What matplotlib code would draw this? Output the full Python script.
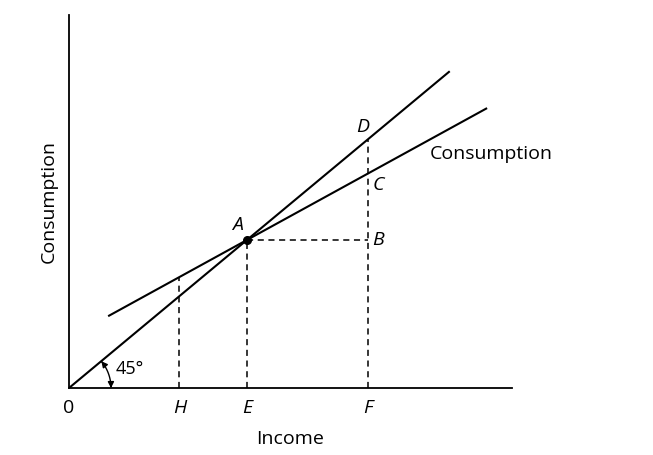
import numpy as np
import matplotlib
matplotlib.use("Agg")
import matplotlib.pyplot as plt
from matplotlib.patches import FancyArrowPatch
from matplotlib.path import Path

plt.rcParams["font.family"] = ["Open Sans", "DejaVu Sans"]

# income positions of the marked points
X_H, X_E, X_F = 6.2, 10.0, 16.8
# 45-degree line and consumption line
LINE45_X = [0.0, 21.4]
CONS_X = [2.2, 23.5]
CONS_SLOPE = 0.66
CONS_ANCHOR = (10.0, 10.0)  # point A
XMAX, YMAX = 24.9, 25.2


def cons(x):
    return CONS_ANCHOR[1] + CONS_SLOPE * (np.asarray(x) - CONS_ANCHOR[0])


fig = plt.figure(figsize=(6.53, 4.55), dpi=100)
ax = fig.add_axes([69 / 653, 67 / 455, 443 / 653, 373 / 455])
ax.set_xlim(0, XMAX)
ax.set_ylim(0, YMAX)
for s in ("top", "right"):
    ax.spines[s].set_visible(False)
for s in ("left", "bottom"):
    ax.spines[s].set_linewidth(1.3)
ax.set_xticks([])
ax.set_yticks([])

lw = 1.5
ax.plot(LINE45_X, LINE45_X, color="black", lw=lw, solid_capstyle="butt")
ax.plot(CONS_X, cons(CONS_X), color="black", lw=lw, solid_capstyle="butt")

dash = dict(color="black", lw=1.1, ls=(0, (4, 3)))
ax.plot([X_H, X_H], [0, cons(X_H)], **dash)
ax.plot([X_E, X_E], [0, X_E], **dash)
ax.plot([X_F, X_F], [0, X_F], **dash)
ax.plot([X_E, X_F], [X_E, X_E], **dash)

ax.plot([X_E], [X_E], "o", color="black", ms=5.5, zorder=5)

# 45 degree arc: circular in screen space, centred on the origin
ax_w = 443 / XMAX   # pixels per x unit
ax_h = 373 / YMAX   # pixels per y unit
r_px = 42
theta = np.radians(np.linspace(39.6, 0, 30))
arc_verts = np.column_stack([r_px * np.cos(theta) / ax_w,
                             r_px * np.sin(theta) / ax_h])
arc = FancyArrowPatch(path=Path(arc_verts),
                      arrowstyle="<|-|>,head_length=3.5,head_width=1.8",
                      color="black", lw=1.0, clip_on=False)
ax.add_patch(arc)
ax.text(2.6, 1.3, "45°", fontsize=13, ha="left", va="center")

fs = 14
ax.text(0, -1.35, "0", fontsize=fs, ha="center", va="center", clip_on=False)
for lbl, xv in (("H", X_H), ("E", X_E), ("F", X_F)):
    ax.text(xv, -1.35, lbl, fontsize=fs, style="italic", ha="center", va="center")
ax.text(X_E - 0.5, 11.0, "A", fontsize=fs, style="italic", ha="center", va="center")
ax.text(X_F + 0.25, X_E, "B", fontsize=fs, style="italic", ha="left", va="center")
ax.text(X_F + 0.25, cons(X_F) - 0.75, "C", fontsize=fs, style="italic", ha="left", va="center")
ax.text(X_F - 0.3, X_F + 0.85, "D", fontsize=fs, style="italic", ha="center", va="center")
ax.text(20.3, 15.8, "Consumption", fontsize=fs, ha="left", va="center")

ax.set_xlabel("Income", fontsize=fs, labelpad=30)
ax.set_ylabel("Consumption", fontsize=fs, labelpad=8)

fig.savefig("out.png", dpi=100)
